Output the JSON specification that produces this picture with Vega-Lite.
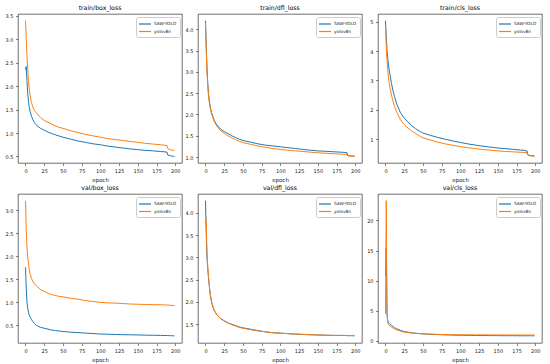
{
"$schema": "https://vega.github.io/schema/vega-lite/v6.json",
"padding": {"left": 4, "top": 4, "right": 4, "bottom": 3},
"background": "white",
"config": {
  "view": {"stroke": "#333", "strokeWidth": 0.7},
  "axis": {"labelFont": "DejaVu Sans", "labelFontSize": 5, "labelColor": "#222", "tickColor": "#333", "tickSize": 2.5, "tickWidth": 0.6, "domain": false, "grid": false, "labelPadding": 2.5, "titleFont": "DejaVu Sans", "titleFontSize": 5.5, "titleFontWeight": "normal", "titleColor": "#222", "titlePadding": 4.5},
  "title": {"font": "DejaVu Sans", "fontSize": 6.2, "fontWeight": "normal", "offset": 3, "color": "#000"},
  "legend": {"labelFont": "DejaVu Sans", "labelFontSize": 4.3, "labelColor": "#222", "symbolType": "M-2,0H2", "symbolSize": 36, "symbolStrokeWidth": 1.2, "symbolOffset": 2, "strokeColor": "#ccc", "fillColor": "rgba(255,255,255,0.85)", "padding": 3, "cornerRadius": 2, "offset": 2.5, "rowPadding": 0.5, "labelOffset": 5}
},
"data": {"values": [
{"panel":"tb","epoch":0,"SAW-YOLO":2.35,"yolov8n":3.4},
{"panel":"tb","epoch":1,"SAW-YOLO":2.42,"yolov8n":3.0},
{"panel":"tb","epoch":2,"SAW-YOLO":2.1,"yolov8n":2.65},
{"panel":"tb","epoch":3,"SAW-YOLO":1.85,"yolov8n":2.35},
{"panel":"tb","epoch":4,"SAW-YOLO":1.68,"yolov8n":2.12},
{"panel":"tb","epoch":5,"SAW-YOLO":1.56,"yolov8n":1.95},
{"panel":"tb","epoch":6,"SAW-YOLO":1.47,"yolov8n":1.82},
{"panel":"tb","epoch":8,"SAW-YOLO":1.36,"yolov8n":1.65},
{"panel":"tb","epoch":10,"SAW-YOLO":1.28,"yolov8n":1.55},
{"panel":"tb","epoch":12,"SAW-YOLO":1.22,"yolov8n":1.48},
{"panel":"tb","epoch":15,"SAW-YOLO":1.16,"yolov8n":1.42},
{"panel":"tb","epoch":20,"SAW-YOLO":1.1,"yolov8n":1.33},
{"panel":"tb","epoch":25,"SAW-YOLO":1.06,"yolov8n":1.27},
{"panel":"tb","epoch":30,"SAW-YOLO":1.02,"yolov8n":1.23},
{"panel":"tb","epoch":35,"SAW-YOLO":0.99,"yolov8n":1.19},
{"panel":"tb","epoch":40,"SAW-YOLO":0.96,"yolov8n":1.15},
{"panel":"tb","epoch":45,"SAW-YOLO":0.935,"yolov8n":1.12},
{"panel":"tb","epoch":50,"SAW-YOLO":0.91,"yolov8n":1.1},
{"panel":"tb","epoch":60,"SAW-YOLO":0.87,"yolov8n":1.05},
{"panel":"tb","epoch":70,"SAW-YOLO":0.83,"yolov8n":1.01},
{"panel":"tb","epoch":80,"SAW-YOLO":0.8,"yolov8n":0.97},
{"panel":"tb","epoch":90,"SAW-YOLO":0.77,"yolov8n":0.94},
{"panel":"tb","epoch":100,"SAW-YOLO":0.75,"yolov8n":0.91},
{"panel":"tb","epoch":110,"SAW-YOLO":0.72,"yolov8n":0.88},
{"panel":"tb","epoch":120,"SAW-YOLO":0.7,"yolov8n":0.86},
{"panel":"tb","epoch":130,"SAW-YOLO":0.68,"yolov8n":0.84},
{"panel":"tb","epoch":140,"SAW-YOLO":0.66,"yolov8n":0.82},
{"panel":"tb","epoch":150,"SAW-YOLO":0.645,"yolov8n":0.8},
{"panel":"tb","epoch":160,"SAW-YOLO":0.63,"yolov8n":0.78},
{"panel":"tb","epoch":170,"SAW-YOLO":0.62,"yolov8n":0.765},
{"panel":"tb","epoch":180,"SAW-YOLO":0.605,"yolov8n":0.75},
{"panel":"tb","epoch":185,"SAW-YOLO":0.6,"yolov8n":0.74},
{"panel":"tb","epoch":189,"SAW-YOLO":0.59,"yolov8n":0.73},
{"panel":"tb","epoch":190,"SAW-YOLO":0.53,"yolov8n":0.67},
{"panel":"tb","epoch":192,"SAW-YOLO":0.52,"yolov8n":0.65},
{"panel":"tb","epoch":195,"SAW-YOLO":0.51,"yolov8n":0.635},
{"panel":"tb","epoch":199,"SAW-YOLO":0.5,"yolov8n":0.63},
{"panel":"td","epoch":0,"SAW-YOLO":4.2,"yolov8n":4.15},
{"panel":"td","epoch":1,"SAW-YOLO":3.6,"yolov8n":3.5},
{"panel":"td","epoch":2,"SAW-YOLO":3.1,"yolov8n":3.0},
{"panel":"td","epoch":3,"SAW-YOLO":2.75,"yolov8n":2.68},
{"panel":"td","epoch":4,"SAW-YOLO":2.5,"yolov8n":2.45},
{"panel":"td","epoch":5,"SAW-YOLO":2.35,"yolov8n":2.3},
{"panel":"td","epoch":6,"SAW-YOLO":2.22,"yolov8n":2.18},
{"panel":"td","epoch":8,"SAW-YOLO":2.05,"yolov8n":2.02},
{"panel":"td","epoch":10,"SAW-YOLO":1.95,"yolov8n":1.92},
{"panel":"td","epoch":12,"SAW-YOLO":1.85,"yolov8n":1.82},
{"panel":"td","epoch":15,"SAW-YOLO":1.76,"yolov8n":1.73},
{"panel":"td","epoch":20,"SAW-YOLO":1.66,"yolov8n":1.62},
{"panel":"td","epoch":25,"SAW-YOLO":1.6,"yolov8n":1.56},
{"panel":"td","epoch":30,"SAW-YOLO":1.55,"yolov8n":1.5},
{"panel":"td","epoch":35,"SAW-YOLO":1.5,"yolov8n":1.45},
{"panel":"td","epoch":40,"SAW-YOLO":1.46,"yolov8n":1.41},
{"panel":"td","epoch":45,"SAW-YOLO":1.42,"yolov8n":1.37},
{"panel":"td","epoch":50,"SAW-YOLO":1.39,"yolov8n":1.34},
{"panel":"td","epoch":60,"SAW-YOLO":1.35,"yolov8n":1.3},
{"panel":"td","epoch":70,"SAW-YOLO":1.31,"yolov8n":1.26},
{"panel":"td","epoch":80,"SAW-YOLO":1.28,"yolov8n":1.23},
{"panel":"td","epoch":90,"SAW-YOLO":1.26,"yolov8n":1.2},
{"panel":"td","epoch":100,"SAW-YOLO":1.24,"yolov8n":1.18},
{"panel":"td","epoch":110,"SAW-YOLO":1.22,"yolov8n":1.16},
{"panel":"td","epoch":120,"SAW-YOLO":1.2,"yolov8n":1.145},
{"panel":"td","epoch":130,"SAW-YOLO":1.18,"yolov8n":1.13},
{"panel":"td","epoch":140,"SAW-YOLO":1.16,"yolov8n":1.115},
{"panel":"td","epoch":150,"SAW-YOLO":1.145,"yolov8n":1.1},
{"panel":"td","epoch":160,"SAW-YOLO":1.135,"yolov8n":1.09},
{"panel":"td","epoch":170,"SAW-YOLO":1.125,"yolov8n":1.08},
{"panel":"td","epoch":180,"SAW-YOLO":1.115,"yolov8n":1.07},
{"panel":"td","epoch":185,"SAW-YOLO":1.11,"yolov8n":1.065},
{"panel":"td","epoch":189,"SAW-YOLO":1.1,"yolov8n":1.06},
{"panel":"td","epoch":190,"SAW-YOLO":1.04,"yolov8n":1.03},
{"panel":"td","epoch":192,"SAW-YOLO":1.03,"yolov8n":1.025},
{"panel":"td","epoch":195,"SAW-YOLO":1.025,"yolov8n":1.02},
{"panel":"td","epoch":199,"SAW-YOLO":1.02,"yolov8n":1.02},
{"panel":"tc","epoch":0,"SAW-YOLO":5.03,"yolov8n":4.85},
{"panel":"tc","epoch":1,"SAW-YOLO":4.5,"yolov8n":4.2},
{"panel":"tc","epoch":2,"SAW-YOLO":4.05,"yolov8n":3.7},
{"panel":"tc","epoch":3,"SAW-YOLO":3.75,"yolov8n":3.35},
{"panel":"tc","epoch":4,"SAW-YOLO":3.55,"yolov8n":3.1},
{"panel":"tc","epoch":5,"SAW-YOLO":3.35,"yolov8n":2.9},
{"panel":"tc","epoch":6,"SAW-YOLO":3.2,"yolov8n":2.75},
{"panel":"tc","epoch":8,"SAW-YOLO":2.9,"yolov8n":2.5},
{"panel":"tc","epoch":10,"SAW-YOLO":2.65,"yolov8n":2.3},
{"panel":"tc","epoch":12,"SAW-YOLO":2.45,"yolov8n":2.12},
{"panel":"tc","epoch":15,"SAW-YOLO":2.2,"yolov8n":1.92},
{"panel":"tc","epoch":20,"SAW-YOLO":1.9,"yolov8n":1.66},
{"panel":"tc","epoch":25,"SAW-YOLO":1.72,"yolov8n":1.5},
{"panel":"tc","epoch":30,"SAW-YOLO":1.58,"yolov8n":1.38},
{"panel":"tc","epoch":35,"SAW-YOLO":1.46,"yolov8n":1.28},
{"panel":"tc","epoch":40,"SAW-YOLO":1.36,"yolov8n":1.2},
{"panel":"tc","epoch":45,"SAW-YOLO":1.28,"yolov8n":1.12},
{"panel":"tc","epoch":50,"SAW-YOLO":1.21,"yolov8n":1.05},
{"panel":"tc","epoch":60,"SAW-YOLO":1.13,"yolov8n":0.97},
{"panel":"tc","epoch":70,"SAW-YOLO":1.06,"yolov8n":0.9},
{"panel":"tc","epoch":80,"SAW-YOLO":1.0,"yolov8n":0.84},
{"panel":"tc","epoch":90,"SAW-YOLO":0.94,"yolov8n":0.79},
{"panel":"tc","epoch":100,"SAW-YOLO":0.89,"yolov8n":0.75},
{"panel":"tc","epoch":110,"SAW-YOLO":0.84,"yolov8n":0.71},
{"panel":"tc","epoch":120,"SAW-YOLO":0.8,"yolov8n":0.68},
{"panel":"tc","epoch":130,"SAW-YOLO":0.76,"yolov8n":0.65},
{"panel":"tc","epoch":140,"SAW-YOLO":0.73,"yolov8n":0.625},
{"panel":"tc","epoch":150,"SAW-YOLO":0.7,"yolov8n":0.6},
{"panel":"tc","epoch":160,"SAW-YOLO":0.68,"yolov8n":0.585},
{"panel":"tc","epoch":170,"SAW-YOLO":0.655,"yolov8n":0.57},
{"panel":"tc","epoch":180,"SAW-YOLO":0.63,"yolov8n":0.555},
{"panel":"tc","epoch":185,"SAW-YOLO":0.62,"yolov8n":0.55},
{"panel":"tc","epoch":189,"SAW-YOLO":0.6,"yolov8n":0.54},
{"panel":"tc","epoch":190,"SAW-YOLO":0.47,"yolov8n":0.46},
{"panel":"tc","epoch":192,"SAW-YOLO":0.45,"yolov8n":0.44},
{"panel":"tc","epoch":195,"SAW-YOLO":0.44,"yolov8n":0.43},
{"panel":"tc","epoch":199,"SAW-YOLO":0.43,"yolov8n":0.42},
{"panel":"vb","epoch":0,"SAW-YOLO":1.76,"yolov8n":3.2},
{"panel":"vb","epoch":1,"SAW-YOLO":1.3,"yolov8n":2.6},
{"panel":"vb","epoch":2,"SAW-YOLO":1.0,"yolov8n":2.2},
{"panel":"vb","epoch":3,"SAW-YOLO":0.87,"yolov8n":1.98},
{"panel":"vb","epoch":4,"SAW-YOLO":0.79,"yolov8n":1.85},
{"panel":"vb","epoch":5,"SAW-YOLO":0.73,"yolov8n":1.72},
{"panel":"vb","epoch":6,"SAW-YOLO":0.69,"yolov8n":1.63},
{"panel":"vb","epoch":8,"SAW-YOLO":0.63,"yolov8n":1.52},
{"panel":"vb","epoch":10,"SAW-YOLO":0.58,"yolov8n":1.45},
{"panel":"vb","epoch":12,"SAW-YOLO":0.54,"yolov8n":1.4},
{"panel":"vb","epoch":15,"SAW-YOLO":0.5,"yolov8n":1.35},
{"panel":"vb","epoch":20,"SAW-YOLO":0.46,"yolov8n":1.28},
{"panel":"vb","epoch":25,"SAW-YOLO":0.44,"yolov8n":1.24},
{"panel":"vb","epoch":30,"SAW-YOLO":0.42,"yolov8n":1.2},
{"panel":"vb","epoch":35,"SAW-YOLO":0.4,"yolov8n":1.17},
{"panel":"vb","epoch":40,"SAW-YOLO":0.39,"yolov8n":1.15},
{"panel":"vb","epoch":45,"SAW-YOLO":0.38,"yolov8n":1.13},
{"panel":"vb","epoch":50,"SAW-YOLO":0.37,"yolov8n":1.12},
{"panel":"vb","epoch":60,"SAW-YOLO":0.355,"yolov8n":1.09},
{"panel":"vb","epoch":70,"SAW-YOLO":0.345,"yolov8n":1.07},
{"panel":"vb","epoch":80,"SAW-YOLO":0.335,"yolov8n":1.04},
{"panel":"vb","epoch":90,"SAW-YOLO":0.325,"yolov8n":1.02},
{"panel":"vb","epoch":100,"SAW-YOLO":0.315,"yolov8n":1.0},
{"panel":"vb","epoch":110,"SAW-YOLO":0.31,"yolov8n":0.99},
{"panel":"vb","epoch":120,"SAW-YOLO":0.305,"yolov8n":0.985},
{"panel":"vb","epoch":130,"SAW-YOLO":0.3,"yolov8n":0.975},
{"panel":"vb","epoch":140,"SAW-YOLO":0.298,"yolov8n":0.965},
{"panel":"vb","epoch":150,"SAW-YOLO":0.295,"yolov8n":0.96},
{"panel":"vb","epoch":160,"SAW-YOLO":0.29,"yolov8n":0.955},
{"panel":"vb","epoch":170,"SAW-YOLO":0.288,"yolov8n":0.95},
{"panel":"vb","epoch":180,"SAW-YOLO":0.285,"yolov8n":0.95},
{"panel":"vb","epoch":185,"SAW-YOLO":0.283,"yolov8n":0.945},
{"panel":"vb","epoch":189,"SAW-YOLO":0.282,"yolov8n":0.945},
{"panel":"vb","epoch":190,"SAW-YOLO":0.28,"yolov8n":0.94},
{"panel":"vb","epoch":192,"SAW-YOLO":0.28,"yolov8n":0.94},
{"panel":"vb","epoch":195,"SAW-YOLO":0.278,"yolov8n":0.935},
{"panel":"vb","epoch":199,"SAW-YOLO":0.275,"yolov8n":0.93},
{"panel":"vd","epoch":0,"SAW-YOLO":4.27,"yolov8n":3.95},
{"panel":"vd","epoch":1,"SAW-YOLO":3.5,"yolov8n":3.8},
{"panel":"vd","epoch":2,"SAW-YOLO":3.0,"yolov8n":3.1},
{"panel":"vd","epoch":3,"SAW-YOLO":2.75,"yolov8n":2.8},
{"panel":"vd","epoch":4,"SAW-YOLO":2.55,"yolov8n":2.57},
{"panel":"vd","epoch":5,"SAW-YOLO":2.38,"yolov8n":2.4},
{"panel":"vd","epoch":6,"SAW-YOLO":2.2,"yolov8n":2.22},
{"panel":"vd","epoch":8,"SAW-YOLO":2.0,"yolov8n":2.02},
{"panel":"vd","epoch":10,"SAW-YOLO":1.88,"yolov8n":1.9},
{"panel":"vd","epoch":12,"SAW-YOLO":1.8,"yolov8n":1.8},
{"panel":"vd","epoch":15,"SAW-YOLO":1.72,"yolov8n":1.71},
{"panel":"vd","epoch":20,"SAW-YOLO":1.63,"yolov8n":1.63},
{"panel":"vd","epoch":25,"SAW-YOLO":1.58,"yolov8n":1.57},
{"panel":"vd","epoch":30,"SAW-YOLO":1.53,"yolov8n":1.53},
{"panel":"vd","epoch":35,"SAW-YOLO":1.5,"yolov8n":1.49},
{"panel":"vd","epoch":40,"SAW-YOLO":1.47,"yolov8n":1.46},
{"panel":"vd","epoch":45,"SAW-YOLO":1.44,"yolov8n":1.43},
{"panel":"vd","epoch":50,"SAW-YOLO":1.42,"yolov8n":1.41},
{"panel":"vd","epoch":60,"SAW-YOLO":1.39,"yolov8n":1.38},
{"panel":"vd","epoch":70,"SAW-YOLO":1.36,"yolov8n":1.35},
{"panel":"vd","epoch":80,"SAW-YOLO":1.33,"yolov8n":1.33},
{"panel":"vd","epoch":90,"SAW-YOLO":1.31,"yolov8n":1.31},
{"panel":"vd","epoch":100,"SAW-YOLO":1.3,"yolov8n":1.3},
{"panel":"vd","epoch":110,"SAW-YOLO":1.29,"yolov8n":1.29},
{"panel":"vd","epoch":120,"SAW-YOLO":1.28,"yolov8n":1.28},
{"panel":"vd","epoch":130,"SAW-YOLO":1.27,"yolov8n":1.275},
{"panel":"vd","epoch":140,"SAW-YOLO":1.265,"yolov8n":1.265},
{"panel":"vd","epoch":150,"SAW-YOLO":1.26,"yolov8n":1.26},
{"panel":"vd","epoch":160,"SAW-YOLO":1.255,"yolov8n":1.255},
{"panel":"vd","epoch":170,"SAW-YOLO":1.25,"yolov8n":1.25},
{"panel":"vd","epoch":180,"SAW-YOLO":1.25,"yolov8n":1.25},
{"panel":"vd","epoch":185,"SAW-YOLO":1.25,"yolov8n":1.25},
{"panel":"vd","epoch":189,"SAW-YOLO":1.245,"yolov8n":1.25},
{"panel":"vd","epoch":190,"SAW-YOLO":1.245,"yolov8n":1.245},
{"panel":"vd","epoch":192,"SAW-YOLO":1.245,"yolov8n":1.245},
{"panel":"vd","epoch":195,"SAW-YOLO":1.245,"yolov8n":1.245},
{"panel":"vd","epoch":199,"SAW-YOLO":1.24,"yolov8n":1.245},
{"panel":"vc","epoch":0,"SAW-YOLO":10.8,"yolov8n":4.5},
{"panel":"vc","epoch":1,"SAW-YOLO":15.5,"yolov8n":23.3},
{"panel":"vc","epoch":2,"SAW-YOLO":4.5,"yolov8n":5.0},
{"panel":"vc","epoch":3,"SAW-YOLO":3.3,"yolov8n":3.0},
{"panel":"vc","epoch":4,"SAW-YOLO":3.0,"yolov8n":2.7},
{"panel":"vc","epoch":5,"SAW-YOLO":2.9,"yolov8n":2.55},
{"panel":"vc","epoch":6,"SAW-YOLO":2.8,"yolov8n":2.45},
{"panel":"vc","epoch":8,"SAW-YOLO":2.6,"yolov8n":2.3},
{"panel":"vc","epoch":10,"SAW-YOLO":2.4,"yolov8n":2.15},
{"panel":"vc","epoch":12,"SAW-YOLO":2.2,"yolov8n":2.0},
{"panel":"vc","epoch":15,"SAW-YOLO":2.0,"yolov8n":1.85},
{"panel":"vc","epoch":20,"SAW-YOLO":1.75,"yolov8n":1.62},
{"panel":"vc","epoch":25,"SAW-YOLO":1.55,"yolov8n":1.45},
{"panel":"vc","epoch":30,"SAW-YOLO":1.45,"yolov8n":1.38},
{"panel":"vc","epoch":35,"SAW-YOLO":1.35,"yolov8n":1.3},
{"panel":"vc","epoch":40,"SAW-YOLO":1.28,"yolov8n":1.25},
{"panel":"vc","epoch":45,"SAW-YOLO":1.22,"yolov8n":1.2},
{"panel":"vc","epoch":50,"SAW-YOLO":1.18,"yolov8n":1.17},
{"panel":"vc","epoch":60,"SAW-YOLO":1.1,"yolov8n":1.12},
{"panel":"vc","epoch":70,"SAW-YOLO":1.05,"yolov8n":1.08},
{"panel":"vc","epoch":80,"SAW-YOLO":1.0,"yolov8n":1.05},
{"panel":"vc","epoch":90,"SAW-YOLO":0.97,"yolov8n":1.03},
{"panel":"vc","epoch":100,"SAW-YOLO":0.94,"yolov8n":1.02},
{"panel":"vc","epoch":110,"SAW-YOLO":0.92,"yolov8n":1.01},
{"panel":"vc","epoch":120,"SAW-YOLO":0.9,"yolov8n":1.0},
{"panel":"vc","epoch":130,"SAW-YOLO":0.89,"yolov8n":1.0},
{"panel":"vc","epoch":140,"SAW-YOLO":0.88,"yolov8n":0.99},
{"panel":"vc","epoch":150,"SAW-YOLO":0.87,"yolov8n":0.99},
{"panel":"vc","epoch":160,"SAW-YOLO":0.86,"yolov8n":0.99},
{"panel":"vc","epoch":170,"SAW-YOLO":0.86,"yolov8n":0.98},
{"panel":"vc","epoch":180,"SAW-YOLO":0.85,"yolov8n":0.98},
{"panel":"vc","epoch":185,"SAW-YOLO":0.85,"yolov8n":0.98},
{"panel":"vc","epoch":189,"SAW-YOLO":0.85,"yolov8n":0.98},
{"panel":"vc","epoch":190,"SAW-YOLO":0.85,"yolov8n":0.98},
{"panel":"vc","epoch":192,"SAW-YOLO":0.85,"yolov8n":0.98},
{"panel":"vc","epoch":195,"SAW-YOLO":0.85,"yolov8n":0.98},
{"panel":"vc","epoch":199,"SAW-YOLO":0.85,"yolov8n":0.98}
]},
"columns": 3,
"spacing": {"row": 31, "column": 16},
"bounds": "flush",
"resolve": {"scale": {"x": "independent", "y": "independent", "color": "independent"}, "legend": {"color": "independent"}},
"concat": [
{"width": 164, "height": 149, "title": "train/box_loss",
 "transform": [{"filter": "datum.panel === 'tb'"}, {"fold": ["SAW-YOLO", "yolov8n"], "as": ["model", "loss"]}],
 "mark": {"type": "line", "strokeWidth": 1, "clip": true},
 "encoding": {
  "x": {"field": "epoch", "type": "quantitative", "scale": {"domain": [-10, 209], "nice": false, "zero": false}, "axis": {"values": [0,25,50,75,100,125,150,175,200], "title": "epoch"}},
  "y": {"field": "loss", "type": "quantitative", "scale": {"domain": [0.36, 3.54], "nice": false, "zero": false}, "axis": {"values": [0.5,1.0,1.5,2.0,2.5,3.0,3.5], "format": ".1f", "title": null}},
  "color": {"field": "model", "type": "nominal", "scale": {"domain": ["SAW-YOLO", "yolov8n"], "range": ["#1f77b4", "#ff7f0e"]}, "legend": {"title": null, "orient": "top-right"}}
 }},
{"width": 164, "height": 149, "title": "train/dfl_loss",
 "transform": [{"filter": "datum.panel === 'td'"}, {"fold": ["SAW-YOLO", "yolov8n"], "as": ["model", "loss"]}],
 "mark": {"type": "line", "strokeWidth": 1, "clip": true},
 "encoding": {
  "x": {"field": "epoch", "type": "quantitative", "scale": {"domain": [-10, 209], "nice": false, "zero": false}, "axis": {"values": [0,25,50,75,100,125,150,175,200], "title": "epoch"}},
  "y": {"field": "loss", "type": "quantitative", "scale": {"domain": [0.86, 4.36], "nice": false, "zero": false}, "axis": {"values": [1.0,1.5,2.0,2.5,3.0,3.5,4.0], "format": ".1f", "title": null}},
  "color": {"field": "model", "type": "nominal", "scale": {"domain": ["SAW-YOLO", "yolov8n"], "range": ["#1f77b4", "#ff7f0e"]}, "legend": {"title": null, "orient": "top-right"}}
 }},
{"width": 164, "height": 149, "title": "train/cls_loss",
 "transform": [{"filter": "datum.panel === 'tc'"}, {"fold": ["SAW-YOLO", "yolov8n"], "as": ["model", "loss"]}],
 "mark": {"type": "line", "strokeWidth": 1, "clip": true},
 "encoding": {
  "x": {"field": "epoch", "type": "quantitative", "scale": {"domain": [-10, 209], "nice": false, "zero": false}, "axis": {"values": [0,25,50,75,100,125,150,175,200], "title": "epoch"}},
  "y": {"field": "loss", "type": "quantitative", "scale": {"domain": [0.19, 5.26], "nice": false, "zero": false}, "axis": {"values": [1,2,3,4,5], "format": "d", "title": null}},
  "color": {"field": "model", "type": "nominal", "scale": {"domain": ["SAW-YOLO", "yolov8n"], "range": ["#1f77b4", "#ff7f0e"]}, "legend": {"title": null, "orient": "top-right"}}
 }},
{"width": 164, "height": 149, "title": "val/box_loss",
 "transform": [{"filter": "datum.panel === 'vb'"}, {"fold": ["SAW-YOLO", "yolov8n"], "as": ["model", "loss"]}],
 "mark": {"type": "line", "strokeWidth": 1, "clip": true},
 "encoding": {
  "x": {"field": "epoch", "type": "quantitative", "scale": {"domain": [-10, 209], "nice": false, "zero": false}, "axis": {"values": [0,25,50,75,100,125,150,175,200], "title": "epoch"}},
  "y": {"field": "loss", "type": "quantitative", "scale": {"domain": [0.12, 3.35], "nice": false, "zero": false}, "axis": {"values": [0.5,1.0,1.5,2.0,2.5,3.0], "format": ".1f", "title": null}},
  "color": {"field": "model", "type": "nominal", "scale": {"domain": ["SAW-YOLO", "yolov8n"], "range": ["#1f77b4", "#ff7f0e"]}, "legend": {"title": null, "orient": "top-right"}}
 }},
{"width": 164, "height": 149, "title": "val/dfl_loss",
 "transform": [{"filter": "datum.panel === 'vd'"}, {"fold": ["SAW-YOLO", "yolov8n"], "as": ["model", "loss"]}],
 "mark": {"type": "line", "strokeWidth": 1, "clip": true},
 "encoding": {
  "x": {"field": "epoch", "type": "quantitative", "scale": {"domain": [-10, 209], "nice": false, "zero": false}, "axis": {"values": [0,25,50,75,100,125,150,175,200], "title": "epoch"}},
  "y": {"field": "loss", "type": "quantitative", "scale": {"domain": [1.08, 4.42], "nice": false, "zero": false}, "axis": {"values": [1.5,2.0,2.5,3.0,3.5,4.0], "format": ".1f", "title": null}},
  "color": {"field": "model", "type": "nominal", "scale": {"domain": ["SAW-YOLO", "yolov8n"], "range": ["#1f77b4", "#ff7f0e"]}, "legend": {"title": null, "orient": "top-right"}}
 }},
{"width": 164, "height": 149, "title": "val/cls_loss",
 "transform": [{"filter": "datum.panel === 'vc'"}, {"fold": ["SAW-YOLO", "yolov8n"], "as": ["model", "loss"]}],
 "mark": {"type": "line", "strokeWidth": 1, "clip": true},
 "encoding": {
  "x": {"field": "epoch", "type": "quantitative", "scale": {"domain": [-10, 209], "nice": false, "zero": false}, "axis": {"values": [0,25,50,75,100,125,150,175,200], "title": "epoch"}},
  "y": {"field": "loss", "type": "quantitative", "scale": {"domain": [-0.35, 24.4], "nice": false, "zero": false}, "axis": {"values": [0,5,10,15,20], "format": "d", "title": null}},
  "color": {"field": "model", "type": "nominal", "scale": {"domain": ["SAW-YOLO", "yolov8n"], "range": ["#1f77b4", "#ff7f0e"]}, "legend": {"title": null, "orient": "top-right"}}
 }}
]
}
